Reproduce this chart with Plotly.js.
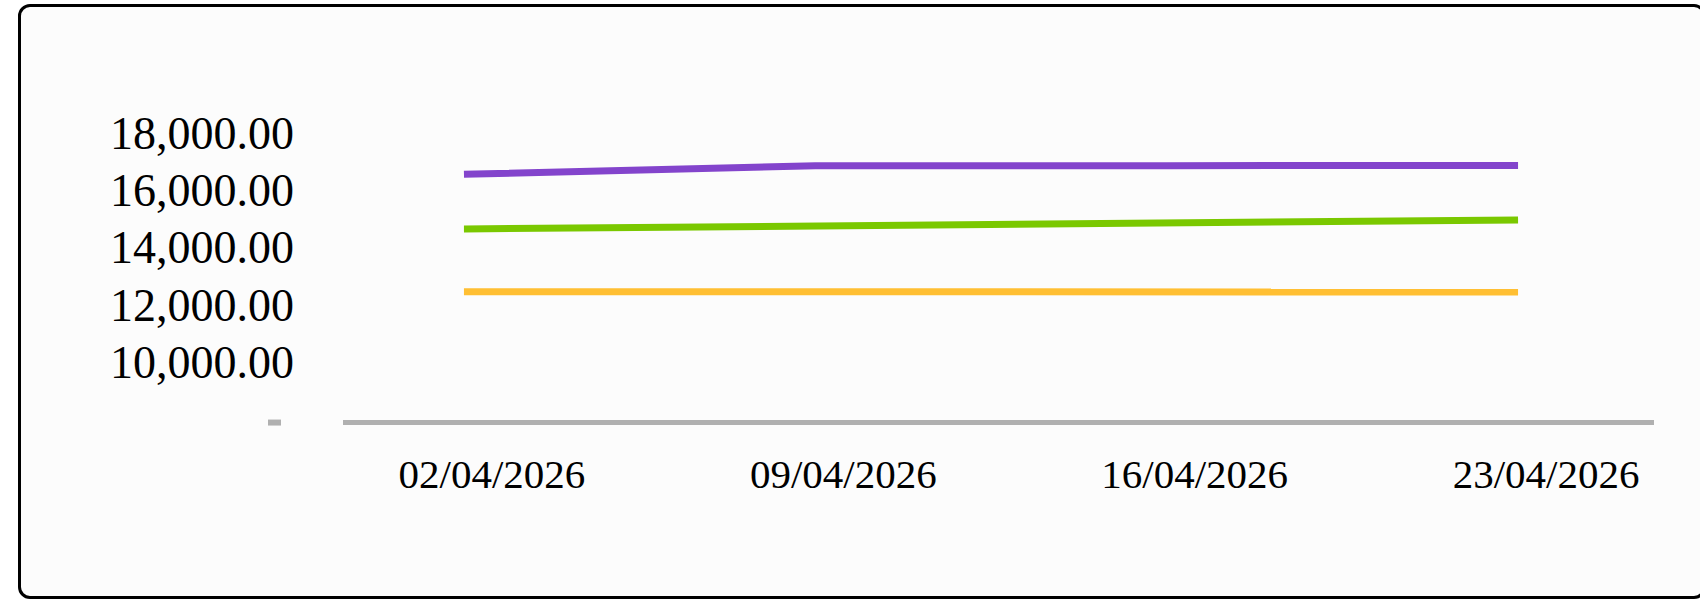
<!DOCTYPE html>
<html>
<head>
<meta charset="utf-8">
<script src="https://cdn.plot.ly/plotly-3.0.1.min.js"></script>
<style>
  html, body { margin: 0; padding: 0; background: #ffffff; width: 1700px; height: 600px; overflow: hidden; }
  #frame { position: absolute; left: 18px; top: 4px; width: 1682px; height: 589px;
           border: 3px solid #000; border-radius: 12px; background: #fcfcfc; }
  #chart { position: absolute; left: 0; top: 0; width: 1700px; height: 600px; }
</style>
</head>
<body>
<div id="frame"></div>
<div id="chart"></div>
<script>
// ---- data ----
const dates = ["2026-04-02", "2026-04-09", "2026-04-16", "2026-04-23"];
const purpleValues = [16550, 16850, 16850, 16855];
const greenValues  = [14640, 14740, 14850, 14955];
const yellowValues = [12450, 12450, 12450, 12445];
const yTickValues = [10000, 12000, 14000, 16000, 18000];
const xTickValues = ["2026-04-02", "2026-04-09", "2026-04-16", "2026-04-23"];
const xTickLabels = ["02/04/2026", "09/04/2026", "16/04/2026", "23/04/2026"];

const seriesColors = ["#8344cc", "#7ac800", "#ffbf33"];
const seriesValues = [purpleValues, greenValues, yellowValues];

const traces = seriesValues.map((vals, i) => ({
  type: "scatter",
  mode: "lines",
  x: dates,
  y: vals,
  line: { color: seriesColors[i], width: 7 },
  hoverinfo: "skip",
  showlegend: false
}));

const font = { family: "Liberation Serif, Times New Roman, serif", color: "#000" };

const layout = {
  width: 1700,
  height: 600,
  paper_bgcolor: "rgba(0,0,0,0)",
  plot_bgcolor: "rgba(0,0,0,0)",
  margin: { l: 343, r: 46, t: 100, b: 180, pad: 0 },
  showlegend: false,
  font: font,
  xaxis: {
    type: "date",
    range: ["2026-03-30 14:10", "2026-04-25 17:00"],
    tickvals: xTickValues,
    ticktext: xTickLabels,
    ticks: "",
    showgrid: false,
    zeroline: false,
    showline: true,
    linecolor: "#b0b0b0",
    linewidth: 5,
    ticklabelshift: 28,
    ticklabelstandoff: 14,
    tickfont: { family: font.family, size: 41, color: "#000" }
  },
  yaxis: {
    range: [7976, 19141],
    tickvals: yTickValues,
    tickformat: ",.2f",
    ticks: "",
    showgrid: false,
    zeroline: false,
    showline: false,
    ticklabelstandoff: 48,
    tickfont: { family: font.family, size: 46, color: "#000" }
  },
  shapes: [
    { type: "line", xref: "paper", yref: "paper",
      x0: -0.0572, x1: -0.0473, y0: -0.008, y1: -0.008,
      line: { color: "#b0b0b0", width: 6 } }
  ]
};

Plotly.newPlot("chart", traces, layout, { staticPlot: true, displayModeBar: false });
</script>
</body>
</html>
